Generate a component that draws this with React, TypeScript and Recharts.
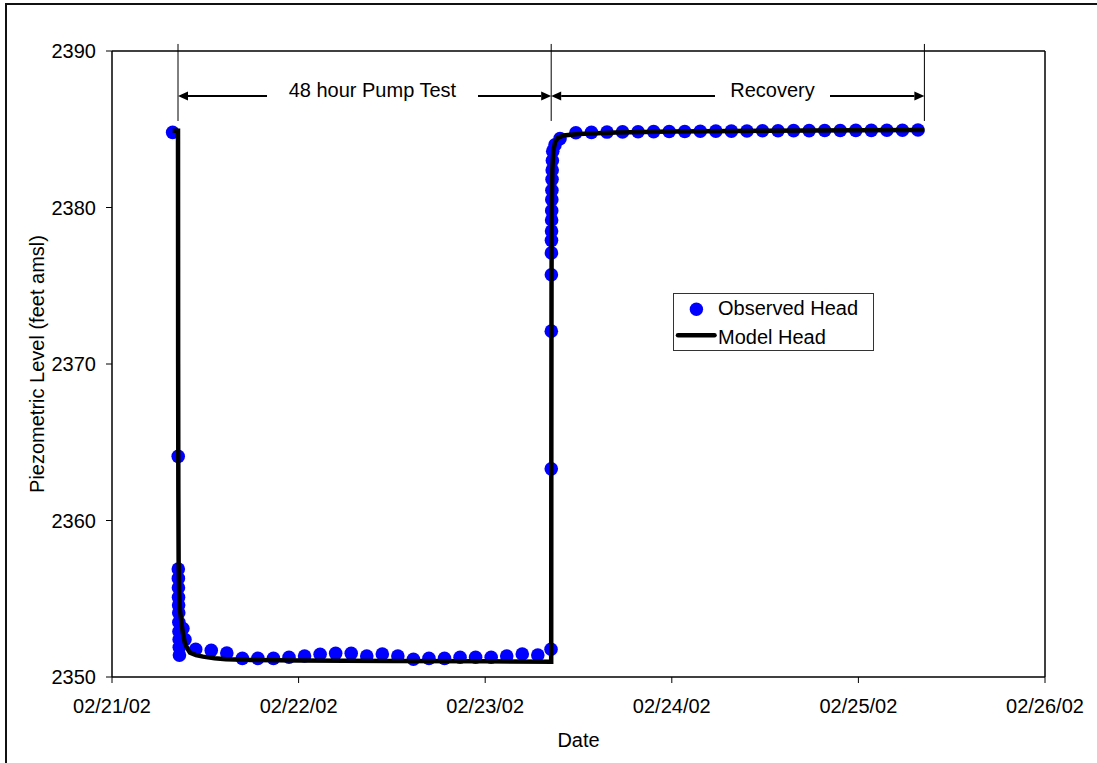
import React from 'react';
import {
  ComposedChart,
  Scatter,
  XAxis,
  YAxis,
  ReferenceLine,
  ReferenceDot,
  Legend,
  Label,
} from 'recharts';

const FONT = '"Liberation Sans", Arial, Helvetica, sans-serif';

// X axis: days since 02/21/02 00:00
const dateTicks = [0, 1, 2, 3, 4, 5];
const dateLabels = ['02/21/02', '02/22/02', '02/23/02', '02/24/02', '02/25/02', '02/26/02'];
const headTicks = [2350, 2360, 2370, 2380, 2390];

// Observed head (days, feet amsl)
const obsTime = [
  0.325, 0.3548, 0.3552, 0.3556, 0.356, 0.3565, 0.357, 0.3576, 0.3582, 0.359, 0.3598, 0.3606, 0.3614,
  0.38, 0.391,
  0.4486, 0.5319, 0.6153, 0.6986, 0.7819, 0.8653, 0.9486, 1.0319, 1.1153, 1.1986, 1.2819, 1.3653,
  1.4486, 1.5319, 1.6153, 1.6986, 1.7819, 1.8653, 1.9486, 2.0319, 2.1153, 2.1986, 2.2819,
  2.3527,
  2.354, 2.3543, 2.3546, 2.3549, 2.3552, 2.3556, 2.356, 2.3565, 2.357, 2.3576, 2.3583, 2.3591, 2.36,
  2.362, 2.374, 2.401,
  2.486, 2.5693, 2.6527, 2.736, 2.8193, 2.9027, 2.986, 3.0693, 3.1527, 3.236, 3.3193, 3.4027,
  3.486, 3.5693, 3.6527, 3.736, 3.8193, 3.9027, 3.986, 4.0693, 4.1527, 4.236, 4.3193,
];
const obsHead = [
  2384.8, 2364.1, 2356.9, 2356.3, 2355.7, 2355.1, 2354.6, 2354.1, 2353.5, 2352.9, 2352.4, 2351.9, 2351.4,
  2353.1, 2352.4,
  2351.77, 2351.7, 2351.53, 2351.19, 2351.19, 2351.19, 2351.26, 2351.34, 2351.45, 2351.51, 2351.51, 2351.34,
  2351.47, 2351.34, 2351.13, 2351.19, 2351.19, 2351.26, 2351.26, 2351.26, 2351.34, 2351.47, 2351.41,
  2351.77,
  2363.3, 2372.1, 2375.7, 2377.1, 2377.9, 2378.5, 2379.2, 2379.8, 2380.5, 2381.1, 2381.8, 2382.4, 2383.0,
  2383.6, 2384.0, 2384.4,
  2384.78, 2384.8, 2384.82, 2384.83, 2384.84, 2384.85, 2384.86, 2384.86, 2384.87, 2384.88, 2384.88, 2384.89,
  2384.9, 2384.9, 2384.91, 2384.91, 2384.92, 2384.92, 2384.93, 2384.93, 2384.94, 2384.94, 2384.95,
];

// Model head (days, feet amsl)
const modelTime = [
  0.325, 0.3537, 0.3545, 0.3555, 0.357, 0.36, 0.365, 0.372, 0.38, 0.391, 0.405, 0.418, 0.45, 0.488,
  0.55, 0.611, 0.75, 1.0, 1.5, 2.0, 2.3537,
  2.3545, 2.3555, 2.357, 2.36, 2.365, 2.375, 2.39, 2.42, 2.5, 2.7, 3.0, 3.5, 4.0, 4.3537,
];
const modelHead = [
  2384.9, 2384.9, 2370, 2362, 2357.5, 2355.3, 2354.2, 2353.5, 2352.8, 2352.15, 2351.8, 2351.55, 2351.4, 2351.3,
  2351.2, 2351.13, 2351.09, 2351.05, 2351.02, 2351.0, 2350.98,
  2366, 2375.5, 2380, 2382.5, 2383.6, 2384.2, 2384.45, 2384.6, 2384.7, 2384.8, 2384.85, 2384.9, 2384.93, 2384.95,
];

// Annotation (days / feet amsl)
const phaseMarks = [0.3537, 2.3537, 4.3537];
const markerTop = 2390.45;
const markerBottom = 2385.53;
const arrowLevel = 2387.12;
const labelLevel = 2387.49;
const arrows = [
  { tip: 0.3537, tail: 0.8307 },
  { tip: 2.3537, tail: 1.9614 },
  { tip: 2.3537, tail: 3.2315 },
  { tip: 4.3537, tail: 3.8478 },
];
const phaseLabels = [
  { text: '48 hour Pump Test', x: 1.3955 },
  { text: 'Recovery', x: 3.5397 },
];

const observed = obsTime.map((t, i) => ({ t, h: obsHead[i] }));
const model = modelTime.map((t, i) => ({ t, h: modelHead[i] }));

const ArrowShape = (props: any) => {
  const { x1, y1, x2, y2 } = props;
  const dir = x2 > x1 ? 1 : -1;
  const len = 10;
  const half = 4.5;
  return (
    <g>
      <line x1={x1 + dir * len} y1={y1} x2={x2} y2={y2} stroke="#000" strokeWidth={2} />
      <polygon
        points={`${x1},${y1} ${x1 + dir * len},${y1 - half} ${x1 + dir * len},${y1 + half}`}
        fill="#000"
      />
    </g>
  );
};

const LegendBox = () => (
  <svg width={201} height={58} style={{ display: 'block' }}>
    <rect x={0.5} y={0.5} width={200} height={57} fill="#fff" stroke="#333" strokeWidth={1} />
    <circle cx={23.4} cy={16.3} r={6.7} fill="#0000FF" />
    <line x1={5} y1={42.3} x2={41.5} y2={42.3} stroke="#000" strokeWidth={4.5} strokeLinecap="round" />
    <text x={45} y={22.3} fontFamily={FONT} fontSize={20} fill="#000">
      Observed Head
    </text>
    <text x={45} y={51.3} fontFamily={FONT} fontSize={20} fill="#000">
      Model Head
    </text>
  </svg>
);

export default function App() {
  return (
    <div
      style={{
        position: 'absolute',
        left: 0,
        top: 0,
        width: 1097,
        height: 763,
        overflow: 'hidden',
        background: '#fff',
      }}
    >
      <div
        style={{
          position: 'absolute',
          left: 5,
          top: 3,
          width: 1100,
          height: 770,
          borderLeft: '2px solid #111',
          borderTop: '2px solid #111',
          boxSizing: 'border-box',
        }}
      />
      <ComposedChart
        width={1097}
        height={763}
        margin={{ top: 51, right: 52, bottom: 26, left: 0 }}
        style={{ position: 'absolute', left: 0, top: 0 }}
      >
        <XAxis
          type="number"
          dataKey="t"
          domain={[0, 5]}
          ticks={dateTicks}
          allowDataOverflow
          tickFormatter={(v: number) => dateLabels[dateTicks.indexOf(v)]}
          height={60}
          tickSize={6}
          tickMargin={16}
          axisLine={{ stroke: '#000', strokeWidth: 1.5 }}
          tickLine={{ stroke: '#000', strokeWidth: 1 }}
          tick={{ fill: '#000', fontSize: 20, fontFamily: FONT }}
        >
          <Label
            content={(p: any) => {
              const vb = p.viewBox || { x: 112, y: 677, width: 933, height: 60 };
              return (
                <text
                  x={vb.x + vb.width / 2}
                  y={vb.y + 69.5}
                  textAnchor="middle"
                  fontFamily={FONT}
                  fontSize={20}
                  fill="#000"
                >
                  Date
                </text>
              );
            }}
          />
        </XAxis>
        <YAxis
          type="number"
          domain={[2350, 2390]}
          ticks={headTicks}
          allowDataOverflow
          width={112}
          tickSize={6}
          tickMargin={10}
          axisLine={{ stroke: '#000', strokeWidth: 1.5 }}
          tickLine={{ stroke: '#000', strokeWidth: 1 }}
          tick={{ fill: '#000', fontSize: 20, fontFamily: FONT }}
        >
          <Label
            content={(p: any) => {
              const vb = p.viewBox || { x: 0, y: 51, width: 112, height: 626 };
              const cx = vb.x + 37;
              const cy = vb.y + vb.height / 2;
              return (
                <text
                  x={cx}
                  y={cy}
                  transform={`rotate(-90, ${cx}, ${cy})`}
                  textAnchor="middle"
                  dominantBaseline="central"
                  fontFamily={FONT}
                  fontSize={20}
                  fill="#000"
                >
                  Piezometric Level (feet amsl)
                </text>
              );
            }}
          />
        </YAxis>

        <ReferenceLine y={2390} stroke="#000" strokeWidth={1.5} />
        <ReferenceLine x={5} stroke="#000" strokeWidth={1.5} />

        {phaseMarks.map((m, i) => (
          <ReferenceLine
            key={`m${i}`}
            segment={[
              { x: m, y: markerTop },
              { x: m, y: markerBottom },
            ]}
            ifOverflow="visible"
            stroke="#000"
            strokeWidth={1}
          />
        ))}
        {arrows.map((a, i) => (
          <ReferenceLine
            key={`a${i}`}
            segment={[
              { x: a.tip, y: arrowLevel },
              { x: a.tail, y: arrowLevel },
            ]}
            ifOverflow="visible"
            shape={ArrowShape}
          />
        ))}
        {phaseLabels.map((l, i) => (
          <ReferenceDot
            key={`l${i}`}
            x={l.x}
            y={labelLevel}
            r={0}
            ifOverflow="visible"
            shape={(p: any) => (
              <text
                x={p.cx}
                y={p.cy}
                textAnchor="middle"
                dominantBaseline="central"
                fontFamily={FONT}
                fontSize={20}
                fill="#000"
              >
                {l.text}
              </text>
            )}
          />
        ))}

        <Scatter
          name="Observed Head"
          data={observed}
          dataKey="h"
          fill="#0000FF"
          isAnimationActive={false}
          shape={(p: any) => <circle cx={p.cx} cy={p.cy} r={6.8} fill="#0000FF" />}
        />
        <Scatter
          name="Model Head"
          data={model}
          dataKey="h"
          fill="#000"
          line={{ stroke: '#000', strokeWidth: 4.5, fill: 'none' }}
          lineType="joint"
          isAnimationActive={false}
          shape={() => <g />}
        />
        <Legend
          layout="vertical"
          align="center"
          verticalAlign="middle"
          wrapperStyle={{ position: 'absolute', left: 673, top: 293, width: 201, height: 58 }}
          content={() => <LegendBox />}
        />
      </ComposedChart>
    </div>
  );
}
